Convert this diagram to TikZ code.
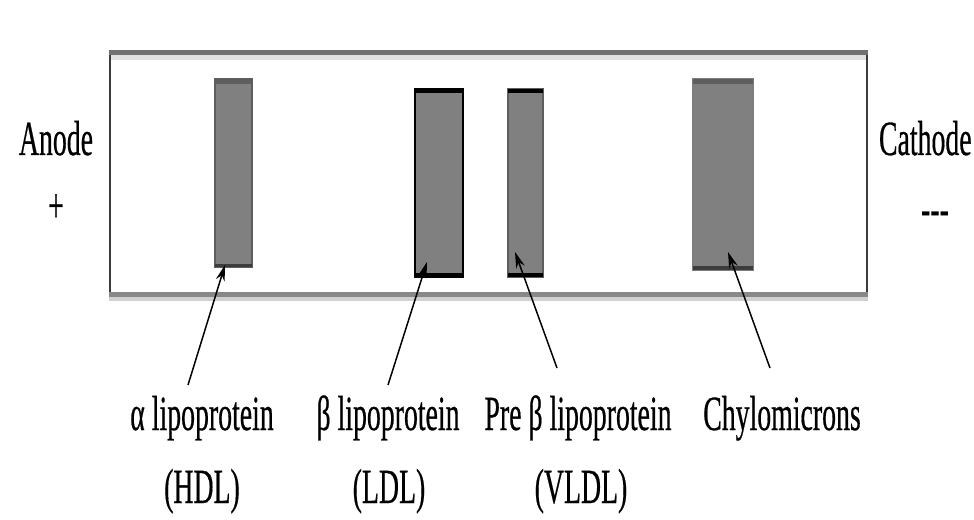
\documentclass[tikz,border=0pt]{standalone}
\usepackage{fontspec}
\setmainfont{Liberation Serif}[FakeBold=0.6]
\usetikzlibrary{arrows.meta}
\definecolor{bandgray}{HTML}{808080}
\definecolor{edgegray}{HTML}{5E5E5E}
\definecolor{darkedge}{HTML}{3C3C3C}
\definecolor{topgray}{HTML}{707070}
\definecolor{toplight}{HTML}{E0E0E0}
\definecolor{botgray}{HTML}{888888}
\definecolor{botlight}{HTML}{D0D0D0}
\newcommand{\sq}[1]{\scalebox{0.565}[1]{#1}}
\tikzset{
  lbl/.style={font=\fontsize{28}{32}\selectfont, inner sep=0pt, anchor=base},
  arr/.style={line width=0.85pt, -{Stealth[length=0.32cm,width=0.18cm]}},
}
\begin{document}
\begin{tikzpicture}[x=0.02cm,y=-0.02cm]
\useasboundingbox (0,0) rectangle (974,520);
\fill[white] (0,0) rectangle (974,520);
% gel box
\fill[topgray] (109,50) rectangle (868,55);
\fill[toplight] (110,55) rectangle (867,60);
\fill[botgray] (109,292) rectangle (868,297);
\fill[botlight] (109,297) rectangle (868,301);
\draw[line width=1.1pt, darkedge] (110,55) -- (110,292);
\draw[line width=1.1pt, darkedge] (867,55) -- (867,292);
% HDL band
\fill[bandgray] (215,79) rectangle (252,267);
\draw[edgegray, line width=0.8pt] (215,79) rectangle (252,267);
\fill[edgegray] (215,79) rectangle (252,84);
\fill[darkedge] (215,264) rectangle (252,267);
% LDL band
\fill[bandgray] (415,89) rectangle (463,277);
\draw[black, line width=1.2pt] (415,89) rectangle (463,277);
\fill[black] (415,89) rectangle (463,93);
\fill[black] (415,273) rectangle (463,277);
% VLDL band
\fill[bandgray] (508,89) rectangle (543,277);
\draw[edgegray, line width=0.9pt] (508,89) rectangle (543,277);
\fill[black] (508,89) rectangle (543,93);
\fill[black] (508,273) rectangle (543,277);
% Chylomicron band
\fill[bandgray] (693,79) rectangle (753,270);
\draw[edgegray!80, line width=0.8pt] (693,79) rectangle (753,270);
\fill[edgegray] (693,79) rectangle (753,84);
\fill[darkedge] (693,266) rectangle (753,270);
% electrodes
\node[lbl] (anode) at (56,155) {\sq{Anode}};
\node[lbl] (plus) at (56,222) {\sq{+}};
\node[lbl, anchor=base east] (cathode) at (972,155) {\sq{Cathode}};
\node[lbl] (minus) at (935,225) {\sq{-{}-{}-}};
% labels
\node[lbl] (hdlA) at (202,430) {\sq{α lipoprotein}};
\node[lbl] (hdlB) at (202,503) {\sq{(HDL)}};
\node[lbl] (ldlA) at (388,430) {\sq{β lipoprotein}};
\node[lbl] (ldlB) at (389,503) {\sq{(LDL)}};
\node[lbl] (vldlA) at (578,430) {\sq{Pre β lipoprotein}};
\node[lbl] (vldlB) at (581,503) {\sq{(VLDL)}};
\node[lbl] (chyA) at (782,430) {\sq{Chylomicrons}};
% arrow ends
\coordinate (t1) at (188,385); \coordinate (p1) at (225,265);
\coordinate (t2) at (388,385); \coordinate (p2) at (427,262);
\coordinate (t3) at (557,368); \coordinate (p3) at (515,252);
\coordinate (t4) at (770,368); \coordinate (p4) at (728,252);
\draw[arr] (t1) -- (p1);
\draw[arr] (t2) -- (p2);
\draw[arr] (t3) -- (p3);
\draw[arr] (t4) -- (p4);
\end{tikzpicture}
\end{document}
